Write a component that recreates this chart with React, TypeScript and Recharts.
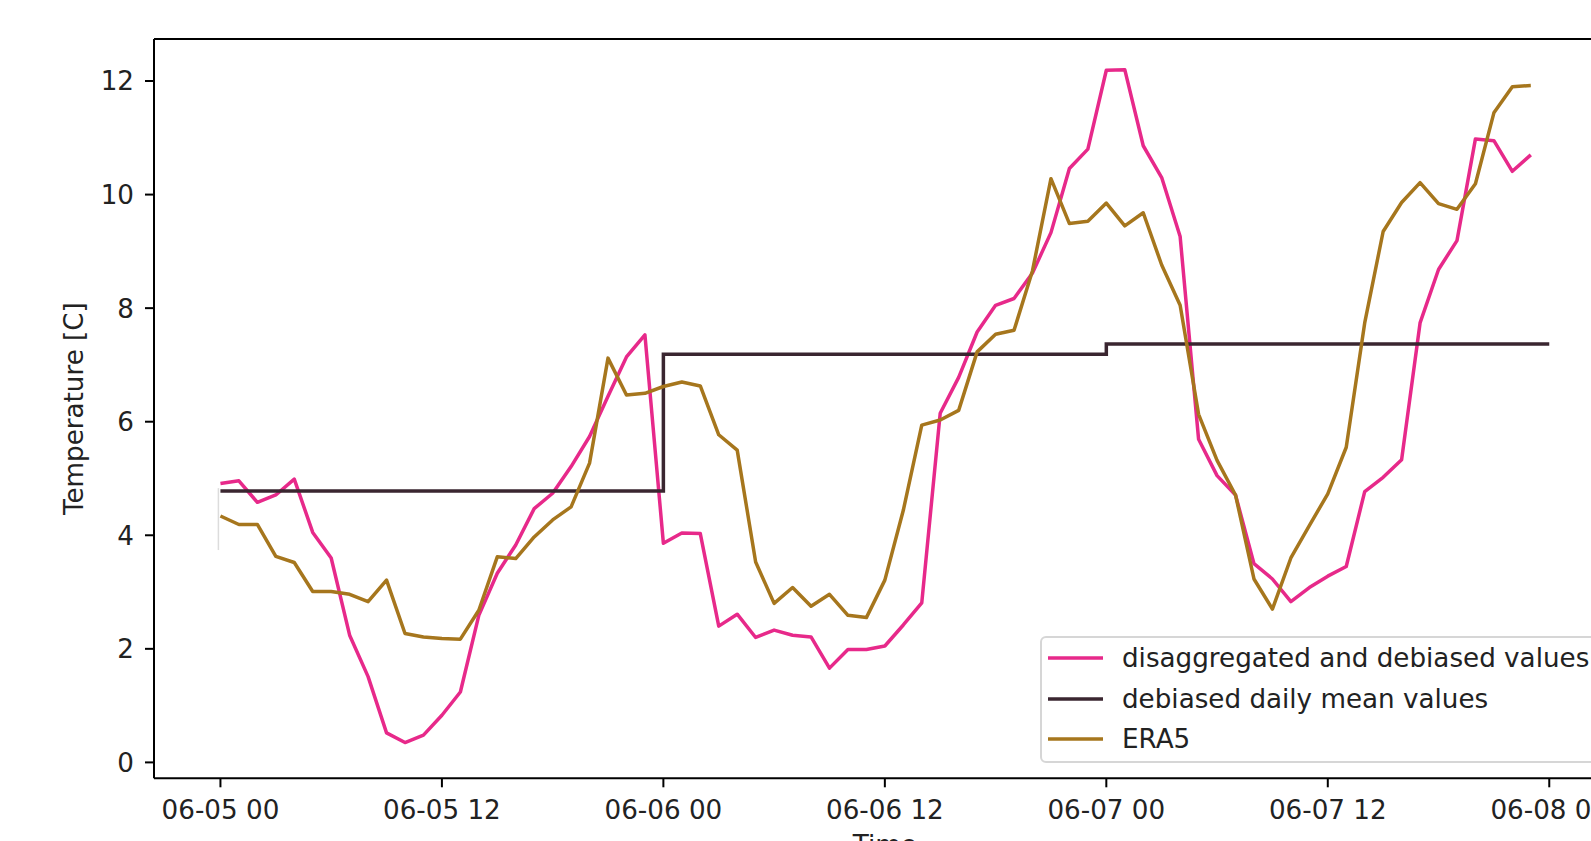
import React from 'react';
import { LineChart, Line, XAxis, YAxis, ReferenceLine, Legend, Label } from 'recharts';

// hours since 06-05 00
const hours = Array.from({ length: 72 }, (_, i) => i);

const disaggregated = [
  4.91, 4.96, 4.58, 4.71, 4.99, 4.05, 3.6, 2.24, 1.51, 0.52,
  0.35, 0.48, 0.83, 1.24, 2.59, 3.33, 3.83, 4.47, 4.74, 5.21,
  5.74, 6.45, 7.14, 7.53, 3.86, 4.04, 4.03, 2.4, 2.61, 2.2,
  2.33, 2.24, 2.21, 1.66, 1.99, 1.99, 2.05, 2.42, 2.81, 6.15,
  6.78, 7.58, 8.05, 8.17, 8.62, 9.33, 10.46, 10.8, 12.19, 12.2,
  10.86, 10.3, 9.26, 5.69, 5.05, 4.71, 3.5, 3.23, 2.83, 3.08,
  3.28, 3.45, 4.77, 5.02, 5.33, 7.74, 8.68, 9.19, 10.98, 10.95,
  10.41, 10.7,
];

const era5 = [
  4.34, 4.19, 4.19, 3.63, 3.52, 3.01, 3.01, 2.96, 2.83, 3.21,
  2.27, 2.21, 2.18, 2.17, 2.68, 3.62, 3.59, 3.97, 4.27, 4.5,
  5.27, 7.12, 6.47, 6.5, 6.62, 6.7, 6.63, 5.77, 5.5, 3.53,
  2.8, 3.08, 2.75, 2.96, 2.59, 2.55, 3.21, 4.44, 5.94, 6.03,
  6.2, 7.23, 7.54, 7.61, 8.66, 10.28, 9.49, 9.53, 9.85, 9.45,
  9.68, 8.76, 8.05, 6.13, 5.32, 4.71, 3.23, 2.7, 3.6, 4.17,
  4.73, 5.55, 7.74, 9.35, 9.86, 10.21, 9.84, 9.74, 10.19, 11.44,
  11.9, 11.92,
];

const dailyHours = [0, 24, 48, 72];
const dailyMean = [4.78, 7.19, 7.37, 7.37];

const faintHour = -0.11;
const faintRange = [3.74, 4.83];

const xTickHours = [0, 12, 24, 36, 48, 60, 72];
const xTickLabels = ['06-05 00', '06-05 12', '06-06 00', '06-06 12', '06-07 00', '06-07 12', '06-08 00'];
const yTicks = [0, 2, 4, 6, 8, 10, 12];

const xDomain = [-3.6, 75.6];
const yDomain = [-0.28, 12.74];

const seriesNames = ['disaggregated and debiased values', 'debiased daily mean values', 'ERA5'];
const colors = ['#e7298a', '#3a2630', '#a6761d'];

const rows = hours.map((h, i) => ({ h, dis: disaggregated[i], era: era5[i] }));
const dailyRows = dailyHours.map((h, i) => ({ h, mean: dailyMean[i] }));

const FONT = '"DejaVu Sans", sans-serif';
const FS = 26.2;

const XTick = (props: any) => {
  const { x, y, payload } = props;
  const idx = xTickHours.indexOf(payload.value);
  return (
    <text x={x} y={y + 30} textAnchor="middle" fontFamily={FONT} fontSize={FS} fill="#222">
      {idx >= 0 ? xTickLabels[idx] : payload.value}
    </text>
  );
};

const YTick = (props: any) => {
  const { x, y, payload } = props;
  return (
    <text x={x} y={y} dy={9.4} textAnchor="end" fontFamily={FONT} fontSize={FS} fill="#222">
      {payload.value}
    </text>
  );
};

const LegendBox = () => (
  <div
    style={{
      position: 'absolute',
      left: 0,
      top: 0,
      width: 580,
      height: 127,
      boxSizing: 'border-box',
      border: '2px solid #d6d6d6',
      borderRadius: 6,
      background: 'rgba(255,255,255,0.85)',
      fontFamily: FONT,
      fontSize: FS,
      color: '#222',
    }}
  >
    {seriesNames.map((name, i) => (
      <div
        key={name}
        style={{
          position: 'absolute',
          left: 0,
          top: 1 + i * 40.6 - 1,
          height: 40.6,
          display: 'flex',
          alignItems: 'center',
          whiteSpace: 'nowrap',
        }}
      >
        <svg width={80} height={10} style={{ marginLeft: 6 }}>
          <line x1={0} y1={5} x2={55} y2={5} stroke={colors[i]} strokeWidth={3.5} />
        </svg>
        <span style={{ marginLeft: -6, lineHeight: '30px' }}>{name}</span>
      </div>
    ))}
  </div>
);

export default function App() {
  return (
    <div style={{ position: 'fixed', left: 0, top: 0, width: 1591, height: 841, overflow: 'hidden', background: '#fff' }}>
      <LineChart
        width={1700}
        height={880}
        data={rows}
        margin={{ top: 39, right: 84.3, bottom: 51.7, left: 90 }}
      >
        <XAxis
          dataKey="h"
          type="number"
          domain={xDomain}
          allowDataOverflow
          ticks={xTickHours}
          interval={0}
          height={50}
          tickSize={9}
          tickLine={{ stroke: '#000', strokeWidth: 2 }}
          axisLine={{ stroke: '#000', strokeWidth: 2 }}
          tick={<XTick />}
        >
          <Label
            content={(p: any) => {
              const vb = p.viewBox || { x: 154, y: 778.3, width: 1461.7 };
              return (
                <text x={vb.x + vb.width / 2} y={vb.y + 76} textAnchor="middle" fontFamily={FONT} fontSize={FS} fill="#222">
                  Time
                </text>
              );
            }}
          />
        </XAxis>
        <YAxis
          type="number"
          domain={yDomain}
          allowDataOverflow
          ticks={yTicks}
          interval={0}
          width={64}
          tickSize={9}
          tickMargin={11}
          tickLine={{ stroke: '#000', strokeWidth: 2 }}
          axisLine={{ stroke: '#000', strokeWidth: 2 }}
          tick={<YTick />}
        >
          <Label
            content={(p: any) => {
              const vb = p.viewBox || { x: 90, y: 39, height: 739.3 };
              const cx = vb.x - 16;
              const cy = vb.y + vb.height / 2;
              return (
                <text
                  x={cx}
                  y={cy}
                  transform={`rotate(-90, ${cx}, ${cy})`}
                  textAnchor="middle"
                  dominantBaseline="central"
                  fontFamily={FONT}
                  fontSize={FS}
                  fill="#222"
                >
                  Temperature [C]
                </text>
              );
            }}
          />
        </YAxis>
        <ReferenceLine y={yDomain[1]} stroke="#000" strokeWidth={2} />
        <ReferenceLine
          segment={[
            { x: faintHour, y: faintRange[0] },
            { x: faintHour, y: faintRange[1] },
          ]}
          stroke="#dcdcdc"
          strokeWidth={1.5}
        />
        <Line
          dataKey="dis"
          name={seriesNames[0]}
          stroke={colors[0]}
          strokeWidth={3.5}
          strokeLinejoin="round"
          dot={false}
          type="linear"
          isAnimationActive={false}
        />
        <Line
          data={dailyRows}
          dataKey="mean"
          name={seriesNames[1]}
          stroke={colors[1]}
          strokeWidth={3.5}
          dot={false}
          type="stepAfter"
          isAnimationActive={false}
        />
        <Line
          dataKey="era"
          name={seriesNames[2]}
          stroke={colors[2]}
          strokeWidth={3.5}
          strokeLinejoin="round"
          dot={false}
          type="linear"
          isAnimationActive={false}
        />
        <Legend
          layout="vertical"
          align="center"
          verticalAlign="middle"
          content={() => <LegendBox />}
          wrapperStyle={{ position: 'absolute', left: 1040, top: 636, width: 580, height: 127, margin: 0 }}
        />
      </LineChart>
    </div>
  );
}
